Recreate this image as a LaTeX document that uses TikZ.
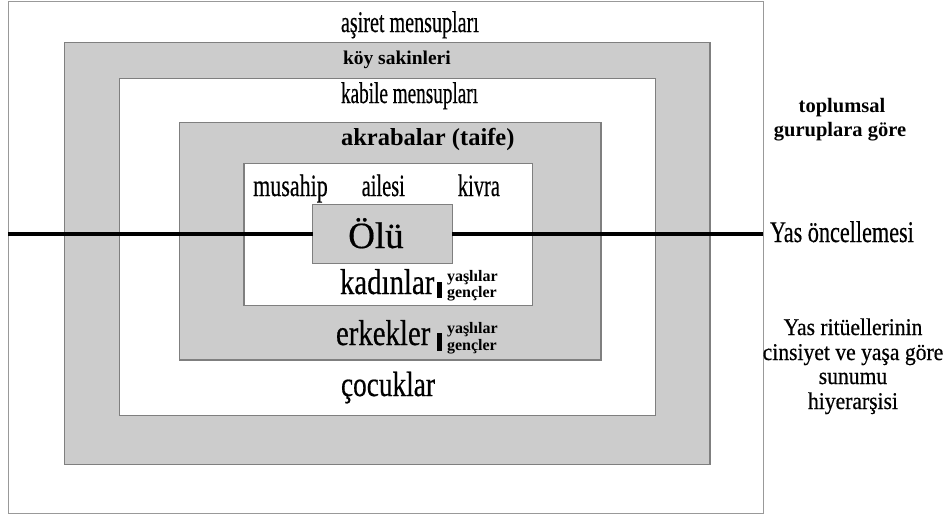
\documentclass[tikz,border=0pt]{standalone}
\usepackage{fontspec}
\setmainfont{Liberation Serif}
\newfontfamily\heavy{Liberation Serif}[FakeBold=0.5]
\newcommand\sq[2]{\scalebox{#1}[1]{#2}}
\definecolor{boxgray}{HTML}{CCCCCC}
\definecolor{edgegray}{HTML}{7F7F7F}
\begin{document}
\begin{tikzpicture}[x=1pt,y=-1pt,
  frame/.style={draw=edgegray, line width=1.1pt, inner sep=0pt, outer sep=0pt},
  graybox/.style={frame, fill=boxgray},
  whitebox/.style={frame, fill=white},
  txt/.style={inner sep=0pt, outer sep=0pt, anchor=base west},
  ctxt/.style={inner sep=0pt, outer sep=0pt, anchor=base},
  bar/.style={fill=black, inner sep=0pt, outer sep=0pt, minimum width=4.5pt},
  small/.style={txt, font=\bfseries\fontsize{16}{16}\selectfont},
  mainline/.style={line width=3.6pt}]
\useasboundingbox (0,0) rectangle (946,515);
\fill[white] (0,0) rectangle (946,515);
% nested boxes
\node[whitebox, draw=gray!80, minimum width=755pt, minimum height=511.6pt] (outer) at (385.8,257.5) {};
\node[graybox, minimum width=645.7pt, minimum height=421.6pt] (g1) at (387.15,253.5) {};
\node[whitebox, minimum width=536.4pt, minimum height=337.4pt] (w2) at (387.5,247) {};
\node[graybox, minimum width=421.7pt, minimum height=237.7pt] (g3) at (390.15,241.15) {};
\node[whitebox, minimum width=288.7pt, minimum height=142.4pt] (w4) at (388.35,234.5) {};
\node[graybox, minimum width=139.6pt, minimum height=59pt] (olu) at (382.5,233.8) {};
% main line
\draw[mainline] (outer.west |- olu.west) -- (olu.west);
\draw[mainline] (olu.east) -- (outer.east |- olu.east);
% texts in boxes
\node[txt, font=\heavy\fontsize{30}{30}\selectfont] (asiret) at (341,32) {\sq{0.67}{aşiret mensupları}};
\node[txt, font=\bfseries\fontsize{19.5}{19.5}\selectfont] (koy) at (343,64) {köy sakinleri};
\node[txt, font=\heavy\fontsize{30}{30}\selectfont] (kabile) at (341,103) {\sq{0.64}{kabile mensupları}};
\node[txt, font=\bfseries\fontsize{24.5}{24.5}\selectfont] (akraba) at (341,145) {akrabalar (taife)};
\node[ctxt, font=\heavy\fontsize{31}{31}\selectfont] (musahip) at (290.5,196) {\sq{0.71}{musahip}};
\node[ctxt, font=\heavy\fontsize{31}{31}\selectfont] (ailesi) at (383.3,196) {\sq{0.66}{ailesi}};
\node[ctxt, font=\heavy\fontsize{31}{31}\selectfont] (kivra) at (478.9,196) {\sq{0.66}{kivra}};
\node[ctxt, font=\heavy\fontsize{37}{37}\selectfont] (olutxt) at (376,248) {Ölü};
\node[txt, font=\heavy\fontsize{36}{36}\selectfont] (kadin) at (340,294) {\sq{0.8}{kadınlar}};
\node[bar, minimum height=16pt] (bar1) at (439.5,290) {};
\node[small] (yas1) at (447,281) {yaşlılar};
\node[small] (genc1) at (447,297) {gençler};
\node[txt, font=\heavy\fontsize{36}{36}\selectfont] (erkek) at (336,345) {\sq{0.8}{erkekler}};
\node[bar, minimum height=18pt] (bar2) at (439.5,342) {};
\node[small] (yas2) at (447,333) {yaşlılar};
\node[small] (genc2) at (447,350) {gençler};
\node[txt, font=\heavy\fontsize{35}{35}\selectfont] (cocuk) at (341,396) {\sq{0.78}{çocuklar}};
% right side texts
\node[ctxt, font=\bfseries\fontsize{20.5}{20.5}\selectfont] (topl) at (842,112) {toplumsal};
\node[ctxt, font=\bfseries\fontsize{20.5}{20.5}\selectfont] (gurup) at (840,136) {guruplara göre};
\node[txt, font=\heavy\fontsize{30}{30}\selectfont] (yasonc) at (770,242) {\sq{0.74}{Yas öncellemesi}};
\node[ctxt, font=\heavy\fontsize{24}{24}\selectfont] (r1) at (853,335) {\sq{0.9}{Yas ritüellerinin}};
\node[ctxt, font=\heavy\fontsize{24}{24}\selectfont] (r2) at (853,360) {\sq{0.9}{cinsiyet ve yaşa göre}};
\node[ctxt, font=\heavy\fontsize{24}{24}\selectfont] (r3) at (853,384) {\sq{0.9}{sunumu}};
\node[ctxt, font=\heavy\fontsize{24}{24}\selectfont] (r4) at (853,409) {\sq{0.9}{hiyerarşisi}};
\end{tikzpicture}
\end{document}
